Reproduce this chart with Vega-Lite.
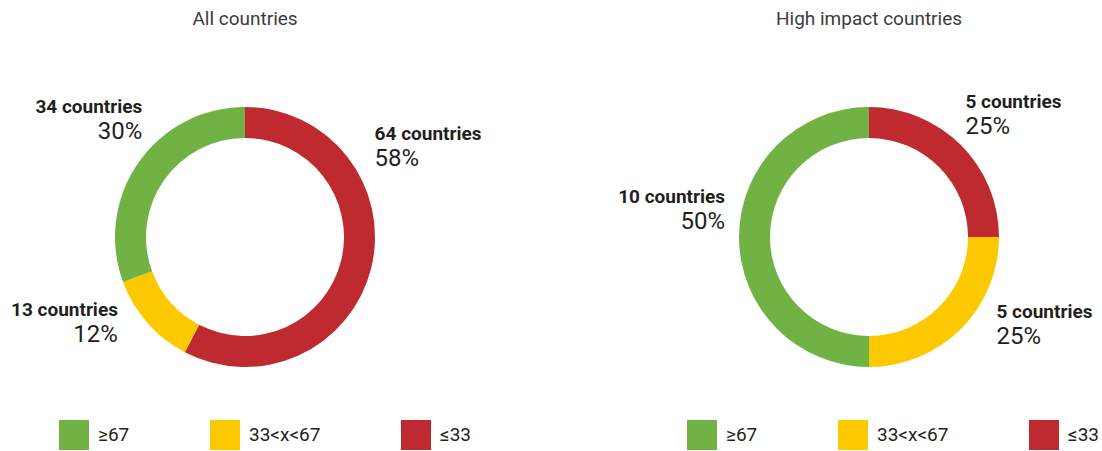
{
  "$schema": "https://vega.github.io/schema/vega-lite/v6.json",
  "padding": {"left": 11, "top": 10, "right": 0, "bottom": 0},
  "bounds": "flush",
  "spacing": 184,
  "background": "white",
  "config": {
    "view": {"stroke": null},
    "font": "Roboto",
    "title": {"fontSize": 19, "fontWeight": "normal", "color": "#3c3c3c", "offset": 32, "anchor": "middle", "font": "Roboto"},
    "text": {"color": "#231F20", "baseline": "alphabetic", "radius": 152},
    "legend": {
      "orient": "none", "direction": "horizontal", "title": null,
      "symbolType": "square", "symbolSize": 900, "symbolStrokeWidth": 0, "symbolOpacity": 1,
      "labelFontSize": 19, "labelOffset": 9, "columnPadding": 80, "labelColor": "#231F20",
      "labelFont": "Roboto", "padding": 0
    }
  },
  "datasets": {
    "donuts": [
      {"panel": "All countries", "category": "≤33", "seq": 1, "countries": 64, "share": 0.58},
      {"panel": "All countries", "category": "33<x<67", "seq": 2, "countries": 13, "share": 0.12},
      {"panel": "All countries", "category": "≥67", "seq": 3, "countries": 34, "share": 0.30},
      {"panel": "High impact countries", "category": "≤33", "seq": 1, "countries": 5, "share": 0.25},
      {"panel": "High impact countries", "category": "33<x<67", "seq": 2, "countries": 5, "share": 0.25},
      {"panel": "High impact countries", "category": "≥67", "seq": 3, "countries": 10, "share": 0.50}
    ]
  },
  "hconcat": [
    {
      "title": "All countries",
      "width": 440, "height": 352,
      "data": {"name": "donuts"},
      "transform": [
        {"filter": "datum.panel === 'All countries'"},
        {"stack": "countries", "groupby": [], "sort": [{"field": "seq", "order": "ascending"}], "as": ["t0", "t1"]},
        {"calculate": "(datum.t0 + datum.t1) / 2", "as": "tm"},
        {"calculate": "datum.countries + ' countries'", "as": "countLabel"}
      ],
      "layer": [
        {
          "mark": {"type": "arc", "innerRadius": 99, "outerRadius": 130},
          "encoding": {
            "theta": {"field": "countries", "type": "quantitative", "stack": true},
            "order": {"field": "seq", "type": "quantitative"},
            "color": {"field": "category", "type": "nominal",
              "scale": {"domain": ["≥67", "33<x<67", "≤33"], "range": ["#70B244", "#FCC800", "#BE2A2F"]},
              "legend": {"legendX": 34, "legendY": 359}}
          }
        },
        {
          "transform": [{"filter": "datum.seq === 3"}],
          "encoding": {"theta": {"field": "tm", "type": "quantitative"}},
          "layer": [
            {"mark": {"type": "text", "align": "right", "dx": 22, "dy": -37, "fontSize": 19, "fontWeight": "bold"}, "encoding": {"text": {"field": "countLabel"}}},
            {"mark": {"type": "text", "align": "right", "dx": 22, "dy": -11, "fontSize": 24}, "encoding": {"text": {"field": "share", "format": ".0%"}}}
          ]
        },
        {
          "transform": [{"filter": "datum.seq === 2"}],
          "encoding": {"theta": {"field": "tm", "type": "quantitative"}},
          "layer": [
            {"mark": {"type": "text", "align": "right", "dx": -13, "dy": -21, "fontSize": 19, "fontWeight": "bold"}, "encoding": {"text": {"field": "countLabel"}}},
            {"mark": {"type": "text", "align": "right", "dx": -13, "dy": 5, "fontSize": 24}, "encoding": {"text": {"field": "share", "format": ".0%"}}}
          ]
        },
        {
          "transform": [{"filter": "datum.seq === 1"}],
          "encoding": {"theta": {"field": "tm", "type": "quantitative"}},
          "layer": [
            {"mark": {"type": "text", "align": "left", "dx": -18, "dy": -133, "fontSize": 19, "fontWeight": "bold"}, "encoding": {"text": {"field": "countLabel"}}},
            {"mark": {"type": "text", "align": "left", "dx": -18, "dy": -107, "fontSize": 24}, "encoding": {"text": {"field": "share", "format": ".0%"}}}
          ]
        }
      ]
    },
    {
      "title": "High impact countries",
      "width": 440, "height": 352,
      "data": {"name": "donuts"},
      "transform": [
        {"filter": "datum.panel === 'High impact countries'"},
        {"stack": "countries", "groupby": [], "sort": [{"field": "seq", "order": "ascending"}], "as": ["t0", "t1"]},
        {"calculate": "(datum.t0 + datum.t1) / 2", "as": "tm"},
        {"calculate": "datum.countries + ' countries'", "as": "countLabel"}
      ],
      "layer": [
        {
          "mark": {"type": "arc", "innerRadius": 99, "outerRadius": 130},
          "encoding": {
            "theta": {"field": "countries", "type": "quantitative", "stack": true},
            "order": {"field": "seq", "type": "quantitative"},
            "color": {"field": "category", "type": "nominal",
              "scale": {"domain": ["≥67", "33<x<67", "≤33"], "range": ["#70B244", "#FCC800", "#BE2A2F"]},
              "legend": {"legendX": 38, "legendY": 359}}
          }
        },
        {
          "transform": [{"filter": "datum.seq === 3"}],
          "encoding": {"theta": {"field": "tm", "type": "quantitative"}},
          "layer": [
            {"mark": {"type": "text", "align": "right", "dx": 8, "dy": -34, "fontSize": 19, "fontWeight": "bold"}, "encoding": {"text": {"field": "countLabel"}}},
            {"mark": {"type": "text", "align": "right", "dx": 8, "dy": -8, "fontSize": 24}, "encoding": {"text": {"field": "share", "format": ".0%"}}}
          ]
        },
        {
          "transform": [{"filter": "datum.seq === 2"}],
          "encoding": {"theta": {"field": "tm", "type": "quantitative"}},
          "layer": [
            {"mark": {"type": "text", "align": "left", "dx": 20, "dy": -26, "fontSize": 19, "fontWeight": "bold"}, "encoding": {"text": {"field": "countLabel"}}},
            {"mark": {"type": "text", "align": "left", "dx": 20, "dy": 0, "fontSize": 24}, "encoding": {"text": {"field": "share", "format": ".0%"}}}
          ]
        },
        {
          "transform": [{"filter": "datum.seq === 1"}],
          "encoding": {"theta": {"field": "tm", "type": "quantitative"}},
          "layer": [
            {"mark": {"type": "text", "align": "left", "dx": -11, "dy": -22, "fontSize": 19, "fontWeight": "bold"}, "encoding": {"text": {"field": "countLabel"}}},
            {"mark": {"type": "text", "align": "left", "dx": -11, "dy": 4, "fontSize": 24}, "encoding": {"text": {"field": "share", "format": ".0%"}}}
          ]
        }
      ]
    }
  ],
  "resolve": {"scale": {"color": "independent", "theta": "independent"}, "legend": {"color": "independent"}}
}
